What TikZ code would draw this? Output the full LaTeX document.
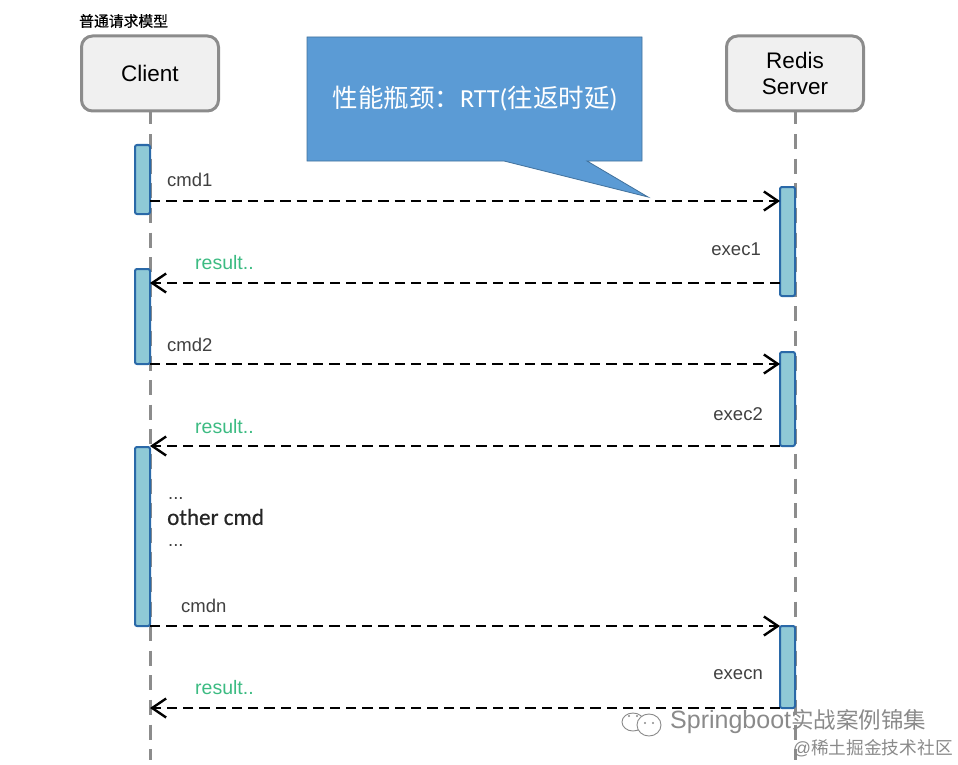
\documentclass[tikz,border=0pt]{standalone}
\usepackage{fontspec}
\setmainfont{Liberation Sans}
\newfontfamily\cjk{Noto Sans CJK SC}
\newfontfamily\cjkmid[FakeBold=0.6]{Noto Sans CJK SC}
\newfontfamily\carl{Carlito}
\newfontfamily\carlmid[FakeBold=0.7]{Carlito}
\usetikzlibrary{arrows.meta}
\definecolor{boxgray}{HTML}{8C8C8C}
\definecolor{boxfill}{HTML}{F0F0F0}
\definecolor{barfill}{HTML}{8FC9D6}
\definecolor{barline}{HTML}{2A69A8}
\definecolor{notefill}{HTML}{5B9BD5}
\definecolor{noteline}{HTML}{41719C}
\definecolor{resgreen}{HTML}{3CBB82}
\definecolor{txtgray}{HTML}{404040}
\definecolor{markgray}{HTML}{8A8A8A}
\tikzset{>={Straight Barb[length=14pt,width=19pt,line width=2.4pt]}}
\tikzset{
    actor/.style={draw=boxgray, fill=boxfill, line width=3pt, rounded corners=11pt, minimum width=137pt, minimum height=75pt, inner sep=0pt, align=center, font=\fontsize{22.5}{26}\selectfont},
    lifeline/.style={draw=boxgray, line width=3pt, dash pattern=on 15pt off 9.6pt, dash phase=3pt},
    actbar/.style={draw=barline, fill=barfill, line width=2pt, rounded corners=2pt, minimum width=15pt, inner sep=0pt, outer sep=0pt, anchor=north east},
    msg/.style={->, line width=2.5pt, dash pattern=on 10.3pt off 6pt, black},
    lbl/.style={font=\fontsize{18.5}{20}\selectfont, text=txtgray, inner sep=0pt},
    reslbl/.style={font=\fontsize{19.5}{20}\selectfont, text=resgreen, inner sep=0pt},
    mark/.style={font=\fontsize{#1}{26}\selectfont, text=markgray, inner sep=0pt, anchor=west}
}

\begin{document}
\begin{tikzpicture}[x=1pt, y=-1pt]
    \useasboundingbox (0,0) rectangle (958,765);
    % actors and lifelines
    \node[actor] (client) at (150,73.5) {Client};
    \node[actor] (server) at (795,73.5) {Redis\\Server};
    \coordinate (clientend) at (150,760);
    \coordinate (serverend) at (795,760);
    \draw[lifeline] (client.south) -- (clientend);
    \draw[lifeline] (server.south) -- (serverend);
    \node[inner sep=0pt, anchor=west, font=\cjkmid\fontsize{14.8}{16}\selectfont] (title) at (79,21) {普通请求模型};
    % activation bars
    \node[actbar, minimum height=69pt] (c1) at (150,145) {};
    \node[actbar, minimum height=95pt] (c2) at (150,269) {};
    \node[actbar, minimum height=179pt] (c3) at (150,447) {};
    \node[actbar, minimum height=109pt] (s1) at (795,187) {};
    \node[actbar, minimum height=94pt] (s2) at (795,352) {};
    \node[actbar, minimum height=82pt] (s3) at (795,626) {};
    % callout
    \filldraw[draw=noteline, fill=notefill, line width=0.8pt] (307,37) -- (642,37) -- (642,161) -- (587,161) -- (648,197) -- (504,161) -- (307,161) -- cycle;
    \node[inner sep=0pt, text=white, font=\cjk\fontsize{25.5}{28}\selectfont] (note) at (475,99) {性能瓶颈：{\carl\fontsize{26}{28}\selectfont RTT(}往返时延{\carl\fontsize{26}{28}\selectfont )}};
    % messages
    \foreach \nm/\y in {m1/201, m2/283, m3/364, m4/446, m5/626, m6/708} {
        \coordinate (\nm c) at (150,\y);
        \coordinate (\nm s) at (780,\y);
    }
    \draw[msg] (m1c) -- (m1s);
    \draw[msg] (m2s) -- (m2c);
    \draw[msg] (m3c) -- (m3s);
    \draw[msg] (m4s) -- (m4c);
    \draw[msg] (m5c) -- (m5s);
    \draw[msg] (m6s) -- (m6c);
    % labels
    \node[lbl, anchor=west] (cmd1) at (167,180) {cmd1};
    \node[lbl, anchor=west] (cmd2) at (167,345) {cmd2};
    \node[lbl, anchor=west] (cmdn) at (181,606) {cmdn};
    \node[lbl, anchor=east] (exec1) at (761,249) {exec1};
    \node[lbl, anchor=east] (exec2) at (763,414) {exec2};
    \node[lbl, anchor=east] (execn) at (763,675) {execn};
    \node[reslbl, anchor=west] (res1) at (195,263) {result..};
    \node[reslbl, anchor=west] (res2) at (195,427) {result..};
    \node[reslbl, anchor=west] (res3) at (195,688) {result..};
    \node[lbl, anchor=west] (dots1) at (168,499) {...};
    \node[inner sep=0pt, anchor=west, text=black!85, font=\carlmid\fontsize{23}{26}\selectfont] (other) at (167,517) {other cmd};
    \node[lbl, anchor=west] (dots2) at (168,546) {...};
    % watermark
    \draw[markgray, line width=0.9pt] (633,722) ellipse (11pt and 9pt);
    \filldraw[draw=markgray, fill=white, line width=0.9pt] (649,725) ellipse (12pt and 11pt);
    \fill[markgray] (629,716) circle (1.2pt) (637,716) circle (1.2pt) (645,723) circle (1.2pt) (653,723) circle (1.2pt);
    \node[mark=25] (wm1) at (670,722) {Springboot{\cjk\fontsize{22.5}{26}\selectfont 实战案例锦集}};
    \node[mark=17.7] (wm2) at (793,748) {@{\cjk 稀土掘金技术社区}};
\end{tikzpicture}
\end{document}
